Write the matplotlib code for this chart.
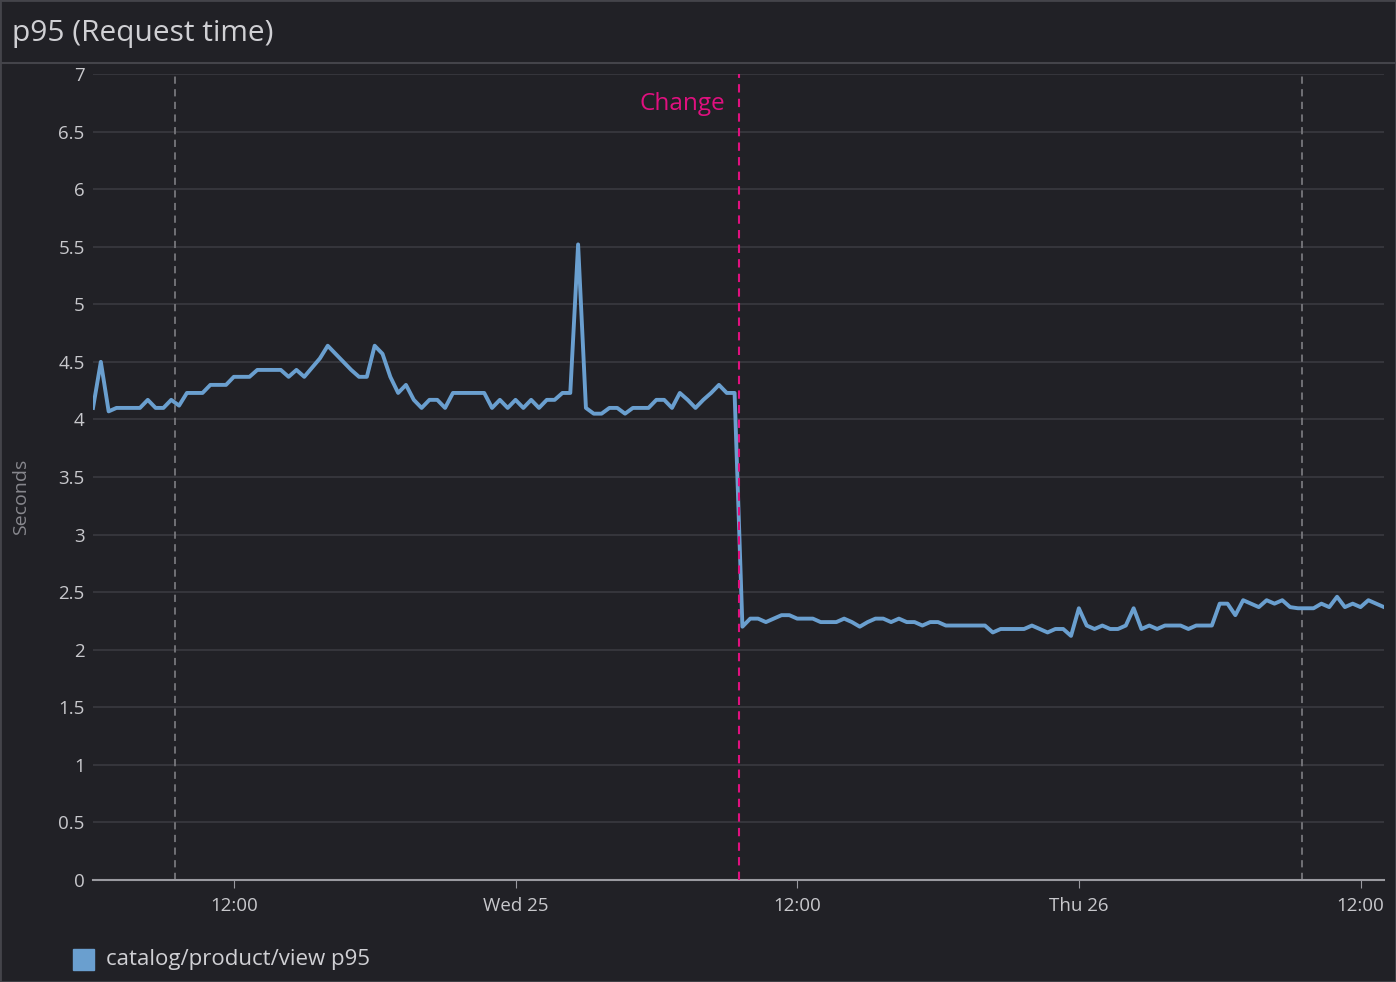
import matplotlib
matplotlib.use("Agg")
import matplotlib.pyplot as plt
import matplotlib.dates as mdates
import numpy as np
import pandas as pd

plt.rcParams['font.family'] = ['Open Sans', 'DejaVu Sans']

start = "2024-09-24 06:00"   # Tue 24
step_minutes = 20
values = [4.1,4.5,4.07,4.1,4.1,4.1,4.1,4.17,4.1,4.1,4.17,4.12,4.23,4.23,4.23,4.3,4.3,4.3,4.37,4.37,
          4.37,4.43,4.43,4.43,4.43,4.37,4.43,4.37,4.45,4.53,4.64,4.57,4.5,4.43,4.37,4.37,4.64,4.57,4.37,4.23,
          4.3,4.17,4.1,4.17,4.17,4.1,4.23,4.23,4.23,4.23,4.23,4.1,4.17,4.1,4.17,4.1,4.17,4.1,4.17,4.17,
          4.23,4.23,5.52,4.1,4.05,4.05,4.1,4.1,4.05,4.1,4.1,4.1,4.17,4.17,4.1,4.23,4.17,4.1,4.17,4.23,
          4.3,4.23,4.23,2.2,2.27,2.27,2.24,2.27,2.3,2.3,2.27,2.27,2.27,2.24,2.24,2.24,2.27,2.24,2.2,2.24,
          2.27,2.27,2.24,2.27,2.24,2.24,2.21,2.24,2.24,2.21,2.21,2.21,2.21,2.21,2.21,2.15,2.18,2.18,2.18,2.18,
          2.21,2.18,2.15,2.18,2.18,2.12,2.36,2.21,2.18,2.21,2.18,2.18,2.21,2.36,2.18,2.21,2.18,2.21,2.21,2.21,
          2.18,2.21,2.21,2.21,2.4,2.4,2.3,2.43,2.4,2.37,2.43,2.4,2.43,2.37,2.36,2.36,2.36,2.4,2.37,2.46,
          2.37,2.4,2.37,2.43,2.4,2.37]
series_label = "catalog/product/view p95"
gray_markers = ["2024-09-24 09:30", "2024-09-26 09:30"]
change_time = "2024-09-25 09:30"
change_label = "Change"
y_ticks = [0, 0.5, 1, 1.5, 2, 2.5, 3, 3.5, 4, 4.5, 5, 5.5, 6, 6.5, 7]
x_ticks = ["2024-09-24 12:00", "2024-09-25 00:00", "2024-09-25 12:00", "2024-09-26 00:00", "2024-09-26 12:00"]
x_tick_labels = ["12:00", "Wed 25", "12:00", "Thu 26", "12:00"]

times = pd.date_range(start, periods=len(values), freq=f"{step_minutes}min")

BG = "#212126"
TXT = "#c8c8cc"
LINE = "#6a9fcf"

fig = plt.figure(figsize=(13.96, 9.82), dpi=100, facecolor=BG)
# title bar
fig.text(12/1396, 1 - 34/982, "p95 (Request time)", color="#d0d0d4", fontsize=21.5, va="center", ha="left")
fig.add_artist(plt.Line2D([0, 1], [1 - 63/982, 1 - 63/982], color="#44444a", lw=1.5))
fig.add_artist(plt.Rectangle((0, 0), 1, 1, fill=False, ec="#44444a", lw=2, transform=fig.transFigure))

ax = fig.add_axes([93/1396, 102/982, 1291/1396, 806/982], facecolor=BG)
ax.plot(times, values, color=LINE, lw=2.8, zorder=3)
ax.set_xlim(times[0], times[-1])
ax.set_ylim(0, 7)
ax.set_yticks(y_ticks)
ax.set_yticklabels([f"{v:g}" for v in y_ticks])
ax.set_xticks(pd.to_datetime(x_ticks))
ax.set_xticklabels(x_tick_labels)
ax.grid(axis="y", color="#3a3a40", lw=1.2)
ax.grid(axis="x", visible=False)
for s in ["top", "right", "left"]:
    ax.spines[s].set_visible(False)
ax.spines["bottom"].set_color("#9a9aa0")
ax.spines["bottom"].set_linewidth(1.5)
ax.tick_params(axis="y", length=0, colors=TXT, labelsize=13.5, pad=6)
ax.tick_params(axis="x", length=6, color="#9a9aa0", colors=TXT, labelsize=13.5, pad=6)
fig.text(21/1396, 1 - 497/982, "Seconds", color="#88888e", fontsize=14, rotation=90,
         ha="center", va="center")

for t in gray_markers:
    ax.axvline(pd.Timestamp(t), color="#77777c", lw=1.3, ls=(0, (4, 3)), zorder=2)
ct = pd.Timestamp(change_time)
ax.axvline(ct, color="#e0107f", lw=1.5, ls=(0, (4, 3)), zorder=4)
ax.text(ct - pd.Timedelta(minutes=35), 6.74, change_label, color="#e0107f", fontsize=17.5, ha="right", va="center")

# legend
fig.add_artist(plt.Rectangle((73/1396, 1 - 970/982), 21/1396, 21/982, color=LINE,
                             transform=fig.transFigure))
fig.text(106/1396, 1 - 959/982, series_label, color="#d0d0d4", fontsize=16, va="center", ha="left")

fig.savefig("out.png", dpi=100, facecolor=BG)
